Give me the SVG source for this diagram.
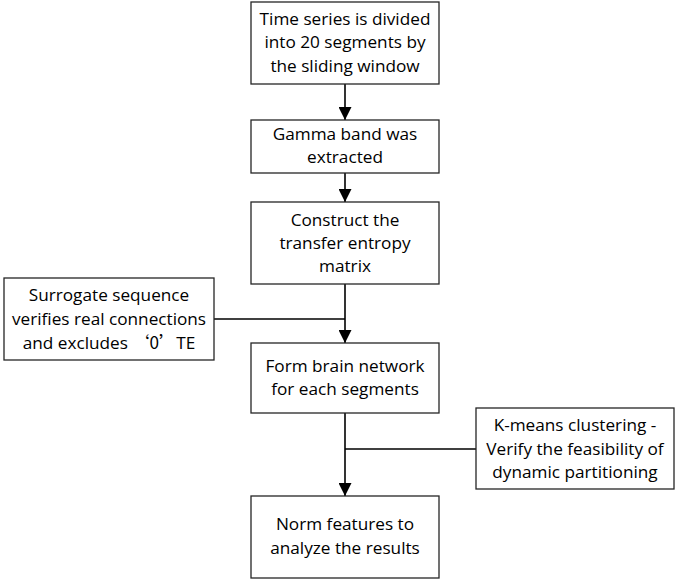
<svg xmlns="http://www.w3.org/2000/svg" width="682" height="580" viewBox="0 0 682 580">
<defs>
<style>
.box{fill:#fff;stroke:#262626;stroke-width:1.3}
.t{font-family:"Open Sans","Liberation Sans",sans-serif;font-size:17.2px;fill:#000;text-anchor:middle}
.ln{fill:none;stroke:#000;stroke-width:1.6}
</style>
<marker id="ah" viewBox="0 0 10 10" refX="10" refY="5" markerWidth="13" markerHeight="13" markerUnits="userSpaceOnUse" orient="auto">
<path d="M0,0 L10,5 L0,10 z" fill="#000"/>
</marker>
</defs>
<rect width="682" height="580" fill="#fff"/>
<g id="connectors">
<line class="ln" x1="345" y1="84" x2="345" y2="120" marker-end="url(#ah)"/>
<line class="ln" x1="345" y1="173" x2="345" y2="202" marker-end="url(#ah)"/>
<line class="ln" x1="345" y1="284" x2="345" y2="343" marker-end="url(#ah)"/>
<line class="ln" x1="214" y1="319" x2="345" y2="319"/>
<line class="ln" x1="345" y1="413" x2="345" y2="496" marker-end="url(#ah)"/>
<line class="ln" x1="476" y1="449" x2="345" y2="449"/>
</g>
<g id="n1">
<rect class="box" x="251" y="2" width="188" height="82"/>
<text class="t" x="345" y="25">Time series is divided</text>
<text class="t" x="345" y="48">into 20 segments by</text>
<text class="t" x="345" y="72">the sliding window</text>
</g>
<g id="n2">
<rect class="box" x="251" y="120" width="188" height="53"/>
<text class="t" x="345" y="140">Gamma band was</text>
<text class="t" x="345" y="163">extracted</text>
</g>
<g id="n3">
<rect class="box" x="251" y="202" width="188" height="82"/>
<text class="t" x="345" y="226">Construct the</text>
<text class="t" x="345" y="249">transfer entropy</text>
<text class="t" x="345" y="272">matrix</text>
</g>
<g id="n4">
<rect class="box" x="4" y="278" width="210" height="82"/>
<text class="t" x="109" y="301">Surrogate sequence</text>
<text class="t" x="109" y="325">verifies real connections</text>
<text class="t" x="109" y="349">and excludes <tspan font-family="'Noto Sans CJK SC',sans-serif">‘0’</tspan>TE</text>
</g>
<g id="n5">
<rect class="box" x="251" y="343" width="188" height="70"/>
<text class="t" x="345" y="372">Form brain network</text>
<text class="t" x="345" y="395">for each segments</text>
</g>
<g id="n6">
<rect class="box" x="476" y="408" width="198" height="81"/>
<text class="t" x="575" y="431">K-means clustering -</text>
<text class="t" x="575" y="455">Verify the feasibility of</text>
<text class="t" x="575" y="478">dynamic partitioning</text>
</g>
<g id="n7">
<rect class="box" x="251" y="496" width="188" height="82"/>
<text class="t" x="345" y="530">Norm features to</text>
<text class="t" x="345" y="554">analyze the results</text>
</g>
</svg>
